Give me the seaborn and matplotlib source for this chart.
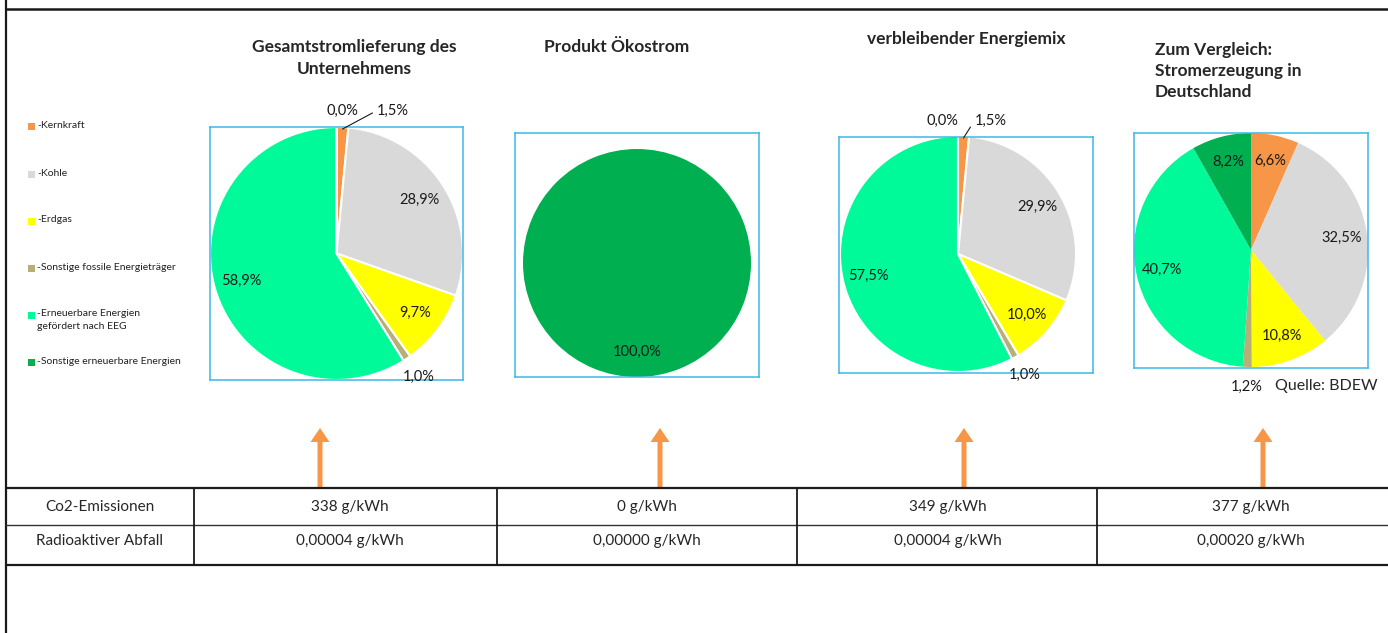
import numpy as np
import matplotlib
matplotlib.use("Agg")
import matplotlib.pyplot as plt
from matplotlib.patches import Rectangle, FancyArrow
import seaborn as sns

# data
categories = ["-Kernkraft", "-Kohle", "-Erdgas", "-Sonstige fossile Energieträger",
              "-Erneuerbare Energien\ngefördert nach EEG", "-Sonstige erneuerbare Energien"]
colors = ["#F79646", "#D9D9D9", "#FFFF00", "#B7AF79", "#00FA9A", "#00B050"]

titles = ["Gesamtstromlieferung des\nUnternehmens", "Produkt Ökostrom",
          "verbleibender Energiemix", "Zum Vergleich:\nStromerzeugung in\nDeutschland"]
mix_gesamt = [1.5, 28.9, 9.7, 1.0, 58.9, 0.0]
mix_oeko = [0.0, 0.0, 0.0, 0.0, 0.0, 100.0]
mix_rest = [1.5, 29.9, 10.0, 1.0, 57.5, 0.0]
mix_de = [6.6, 32.5, 10.8, 1.2, 40.7, 8.2]

row_labels = ["Co2-Emissionen", "Radioaktiver Abfall"]
co2 = ["338 g/kWh", "0 g/kWh", "349 g/kWh", "377 g/kWh"]
abfall = ["0,00004 g/kWh", "0,00000 g/kWh", "0,00004 g/kWh", "0,00020 g/kWh"]
quelle = "Quelle: BDEW"

sns.set_theme(style="white")
plt.rcParams["font.family"] = ["Lato", "DejaVu Sans"]

W, H = 1388, 633
fig = plt.figure(figsize=(W / 100, H / 100), dpi=100, facecolor="white")

# background axes in pixel coordinates for frame, table, arrows
bg = fig.add_axes([0, 0, 1, 1])
bg.set_xlim(0, W)
bg.set_ylim(H, 0)
bg.axis("off")

bg.plot([6, 6], [0, H], color="#1a1a1a", lw=1.6)
bg.plot([6, W], [9, 9], color="#1a1a1a", lw=1.8)
bg.plot([6, W], [488, 488], color="#1a1a1a", lw=1.6)
bg.plot([6, W], [525, 525], color="#333333", lw=1.0)
bg.plot([6, W], [565, 565], color="#1a1a1a", lw=1.6)
col_edges = [194, 497, 797, 1097]
for x in col_edges:
    bg.plot([x, x], [488, 565], color="#1a1a1a", lw=1.3)

# table text
col_centers = [350, 647, 948, 1251]
bg.text(100, 507, row_labels[0], ha="center", va="center", fontsize=11)
bg.text(100, 541, row_labels[1], ha="center", va="center", fontsize=11)
for cx, a, b in zip(col_centers, co2, abfall):
    bg.text(cx, 507, a, ha="center", va="center", fontsize=11)
    bg.text(cx, 541, b, ha="center", va="center", fontsize=11)

# arrows
for x in [320, 660, 964, 1263]:
    bg.add_patch(FancyArrow(x, 487, 0, -59, width=5, head_width=19, head_length=14,
                            length_includes_head=True, color="#F79646", lw=0))

# legend
leg_y = [126, 174, 221, 268, 315, 362]
for y, lab, c in zip(leg_y, categories, colors):
    bg.add_patch(Rectangle((28, y - 3.5), 7, 7, color=c, lw=0))
    bg.text(37, y - 5.5, lab, ha="left", va="top", fontsize=7.5, color="#222222",
            linespacing=1.45)

# titles
bg.text(354, 58, titles[0], ha="center", va="center", fontsize=12.5,
        fontweight="bold", linespacing=1.4)
bg.text(617, 47, titles[1], ha="center", va="center", fontsize=12.5, fontweight="bold")
bg.text(966, 39, titles[2], ha="center", va="center", fontsize=12.5, fontweight="bold")
bg.text(1155, 71, titles[3], ha="left", va="center", fontsize=12.5,
        fontweight="bold", linespacing=1.4)
bg.text(1378, 386, quelle, ha="right", va="center", fontsize=11.5)


def fmt(v):
    return f"{v:.1f}".replace(".", ",") + "%"


# box (x0, y0, x1, y1), pie center, radius, edge width, zero-label x, kernkraft-label x
layouts = [
    ((210, 127, 463, 380), (336.5, 253.5), 126.5, 1.5, 0.17, 0.32),
    ((515, 133, 759, 377), (637, 263), 114, 0.0, None, None),
    ((839, 137, 1093, 373), (958, 254), 118, 1.5, 0.0, 0.14),
    ((1134, 133, 1368, 368), (1251, 250), 117, 0.0, None, None),
]
mixes = [mix_gesamt, mix_oeko, mix_rest, mix_de]

for values, (box, cen, r, ew, zx, kx) in zip(mixes, layouts):
    x0, y0, x1, y1 = box
    ax = fig.add_axes([x0 / W, 1 - y1 / H, (x1 - x0) / W, (y1 - y0) / H])
    wedges, _ = ax.pie(values, colors=colors, startangle=90, counterclock=False,
                       wedgeprops=dict(edgecolor="white", linewidth=ew))
    ax.set_frame_on(True)
    ax.set_aspect("auto")
    ax.set_xlim((x0 - cen[0]) / r, (x1 - cen[0]) / r)
    ax.set_ylim((cen[1] - y1) / r, (cen[1] - y0) / r)
    ax.set_xticks([])
    ax.set_yticks([])
    for s in ax.spines.values():
        s.set_visible(True)
        s.set_color("#3DB7E9")
        s.set_linewidth(1.1)

    nonzero = sum(1 for v in values if v > 0)
    for i, (w, v) in enumerate(zip(wedges, values)):
        mid = np.deg2rad((w.theta1 + w.theta2) / 2)
        if v == 0:
            if zx is None or nonzero == 1:
                continue
            ax.text(zx, 1.13, fmt(v), ha="right", va="center", fontsize=10.5, color="#1a1a1a")
        elif v >= 2:
            ax.text(0.78 * np.cos(mid), 0.78 * np.sin(mid), fmt(v), ha="center",
                    va="center", fontsize=10.5, color="#1a1a1a")
        elif i == 0 and kx is not None:
            ax.annotate(fmt(v), xy=(np.cos(mid), 0.985 * np.sin(mid)), xytext=(kx, 1.13),
                        ha="left", va="center", fontsize=10.5, color="#1a1a1a",
                        annotation_clip=False,
                        arrowprops=dict(arrowstyle="-", color="#1a1a1a", lw=0.8,
                                        relpos=(0, 0.5), shrinkA=1, shrinkB=0))
        else:
            ax.text(1.17 * np.cos(mid), 1.17 * np.sin(mid), fmt(v), ha="center",
                    va="center", fontsize=10.5, color="#1a1a1a")

fig.savefig("out.png", dpi=100, facecolor="white")
